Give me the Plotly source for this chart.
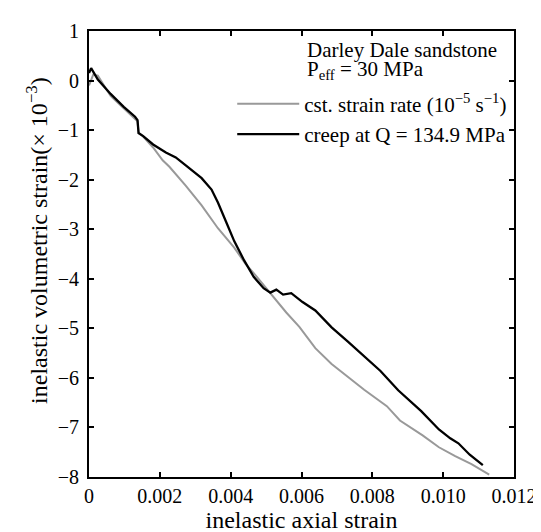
import plotly.graph_objects as go

# constant strain rate test (grey)
cst_x = [0, 0.00012, 0.00025, 0.00061, 0.00098, 0.0013, 0.00137, 0.0014, 0.00153, 0.00181,
         0.00208, 0.00227, 0.00273, 0.00318, 0.00364, 0.0041, 0.00442, 0.00474, 0.00511,
         0.00557, 0.00594, 0.00639, 0.00685, 0.00731, 0.00777, 0.00841, 0.00878, 0.00942,
         0.00988, 0.01034, 0.0108, 0.0113]
cst_y = [-0.1, 0.12, 0.1, -0.31, -0.56, -0.76, -0.82, -1.06, -1.13, -1.35,
         -1.61, -1.74, -2.12, -2.52, -2.98, -3.37, -3.7, -3.96, -4.29,
         -4.68, -4.97, -5.4, -5.72, -5.98, -6.24, -6.57, -6.86, -7.16,
         -7.4, -7.58, -7.74, -7.95]

# creep test (black)
creep_x = [0, 0.00006, 0.00025, 0.00061, 0.00098, 0.0013, 0.00137, 0.0014, 0.00153, 0.00181,
           0.00217, 0.00245, 0.00275, 0.00318, 0.00346, 0.00364, 0.00387, 0.0041, 0.00438,
           0.00465, 0.00493, 0.00512, 0.00529, 0.00548, 0.00571, 0.00603, 0.00639, 0.00685,
           0.00731, 0.00786, 0.00823, 0.00873, 0.00906, 0.00938, 0.00988, 0.0102, 0.01043,
           0.01075, 0.01112]
creep_y = [0.15, 0.25, 0.02, -0.27, -0.53, -0.73, -0.8, -1.06, -1.12, -1.29,
           -1.45, -1.55, -1.72, -1.97, -2.2, -2.46, -2.85, -3.24, -3.63,
           -3.96, -4.19, -4.28, -4.22, -4.32, -4.29, -4.47, -4.64, -4.98,
           -5.27, -5.62, -5.86, -6.25, -6.47, -6.67, -7.04, -7.22, -7.32,
           -7.55, -7.76]

x_tickvals = [0, 0.002, 0.004, 0.006, 0.008, 0.010, 0.012]
x_ticktext = ["0", "0.002", "0.004", "0.006", "0.008", "0.010", "0.012"]
y_tickvals = [1, 0, -1, -2, -3, -4, -5, -6, -7, -8]
y_ticktext = ["1", "0", "\u22121", "\u22122", "\u22123", "\u22124", "\u22125", "\u22126", "\u22127", "\u22128"]

FONT = "Liberation Serif"
TICK_SIZE = 20
TEXT_SIZE = 21
TITLE_SIZE = 24

fig = go.Figure()
fig.add_trace(go.Scatter(x=cst_x, y=cst_y, mode="lines",
                         line=dict(color="#999999", width=2),
                         name="cst. strain rate (10<sup>\u22125</sup> s<sup>\u22121</sup>)"))
fig.add_trace(go.Scatter(x=creep_x, y=creep_y, mode="lines",
                         line=dict(color="black", width=2.3),
                         name="creep at Q = 134.9 MPa"))

fig.update_layout(
    width=541, height=532,
    margin=dict(l=81, r=24, t=21, b=54),
    paper_bgcolor="white", plot_bgcolor="white",
    font=dict(family=FONT, size=TICK_SIZE, color="black"),
    showlegend=True,
    legend=dict(x=0.337, y=0.882, xanchor="left", yanchor="top",
                bgcolor="rgba(0,0,0,0)", itemwidth=62,
                font=dict(family=FONT, size=TEXT_SIZE), tracegroupgap=0),
    annotations=[
        dict(x=0.509, y=0.958, xref="paper", yref="paper", xanchor="left", yanchor="middle",
             text="Darley Dale sandstone", showarrow=False,
             font=dict(family=FONT, size=TEXT_SIZE)),
        dict(x=0.509, y=0.913, xref="paper", yref="paper", xanchor="left", yanchor="middle",
             text="P<sub>eff</sub> = 30 MPa", showarrow=False,
             font=dict(family=FONT, size=TEXT_SIZE)),
        dict(x=-0.124, y=0.53, xref="paper", yref="paper", xanchor="center", yanchor="middle",
             text="inelastic volumetric strain(\u00d7 10<sup>\u22123</sup>)", textangle=-90,
             showarrow=False, font=dict(family=FONT, size=TITLE_SIZE)),
    ],
)
fig.update_xaxes(range=[0, 0.012], tickvals=x_tickvals, ticktext=x_ticktext,
                 ticks="inside", ticklen=5, tickwidth=1.5, tickcolor="black",
                 showline=True, linecolor="black", linewidth=2, mirror="ticks",
                 showgrid=False, zeroline=False,
                 tickfont=dict(family=FONT, size=TICK_SIZE),
                 title=dict(text="inelastic axial strain",
                            font=dict(family=FONT, size=TITLE_SIZE), standoff=4))
fig.update_yaxes(range=[-8, 1], tickvals=y_tickvals, ticktext=y_ticktext,
                 ticks="inside", ticklen=5, tickwidth=1.5, tickcolor="black",
                 showline=True, linecolor="black", linewidth=2, mirror="ticks",
                 showgrid=False, zeroline=False, ticklabelstandoff=4,
                 tickfont=dict(family=FONT, size=TICK_SIZE))

fig.write_html("out.html")
